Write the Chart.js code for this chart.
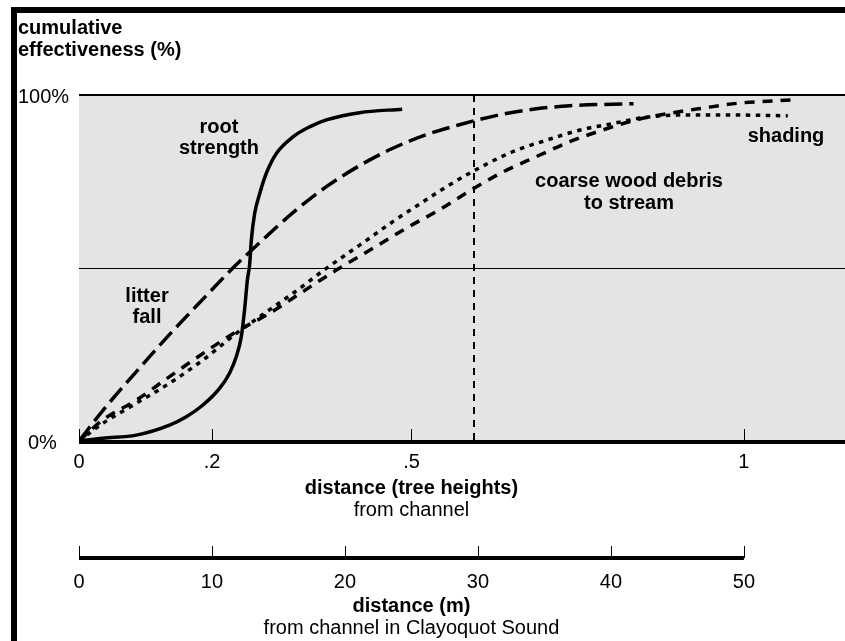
<!DOCTYPE html>
<html>
<head>
<meta charset="utf-8">
<script src="https://cdn.jsdelivr.net/npm/chart.js@4/dist/chart.umd.min.js"></script>
<style>
html,body{margin:0;padding:0;background:#fff;}
canvas{display:block;}
</style>
</head>
<body>
<canvas id="c" width="845" height="641" style="width:845px;height:641px"></canvas>
<script>
// ---- data (x = distance in metres, y = cumulative effectiveness %) ----
const rootX   = [0, 1.79, 4.30, 6.81, 8.07, 9.32, 10.57, 11.32, 11.83, 12.20, 12.45, 12.66, 12.83, 12.96, 13.21, 13.58, 14.09, 14.84, 16.09, 17.34, 18.6, 21.1, 24.3];
const rootY   = [0, 0.8, 1.7, 4.6, 7.0, 10.4, 15.2, 19.6, 24.4, 30.1, 37.9, 46.5, 50.9, 58.1, 65.8, 71.4, 77.4, 83.1, 87.9, 90.8, 92.8, 94.9, 95.9];
const litterX = [0, 1.79, 4.30, 6.81, 9.32, 11.57, 13.58, 16.09, 18.6, 21.1, 23.6, 26.1, 28.6, 31.9, 34.4, 36.9, 41.7];
const litterY = [0, 8.8, 20.0, 30.8, 41.0, 50.0, 57.3, 66.0, 73.5, 79.6, 84.6, 88.5, 91.4, 94.5, 96.0, 96.9, 97.5];
const woodX   = [0, 1.79, 4.30, 6.81, 9.32, 11.83, 14.33, 16.84, 19.35, 22.1, 24.6, 27.1, 29.9, 31.9, 34.4, 36.9, 39.4, 41.9, 44.4, 46.9, 49.5, 53.6];
const woodY   = [0, 6.1, 11.8, 18.6, 25.3, 31.6, 36.9, 43.2, 49.4, 55.7, 61.5, 66.8, 73.5, 77.8, 82.2, 86.5, 89.9, 92.8, 94.7, 96.2, 97.6, 98.6];
const shadeX  = [0, 1.79, 4.30, 6.81, 9.32, 11.83, 13.58, 16.09, 18.6, 21.1, 23.6, 26.1, 27.6, 29.8, 32.6, 35.2, 37.7, 40.2, 42.7, 45.2, 49.5, 53.3];
const shadeY  = [0, 5.1, 10.9, 16.7, 23.4, 31.1, 35.9, 42.7, 49.9, 56.6, 63.4, 69.7, 73.4, 78.3, 83.6, 87.0, 89.9, 91.8, 93.6, 94.2, 94.2, 94.0];

// axis ticks
const treeTickMetres = [0, 10, 25, 50];
const treeTickLabels = ['0', '.2', '.5', '1'];
const metreTicks     = [0, 10, 20, 30, 40, 50];
const yTickValues    = [100, 50, 0];
const yTickLabels    = ['100%', '', '0%'];
const markerMetres   = 29.7;   // dashed vertical reference line (0.6 tree heights)

const FONT = '"Liberation Sans", Arial, Helvetica, sans-serif';
const BOLD = 'bold 20px ' + FONT;
const REG  = '20px ' + FONT;
const pts = (xs, ys) => xs.map((x, i) => ({x: x, y: ys[i]}));

const decor = {
  id: 'decor',
  beforeDraw(chart) {
    const ctx = chart.ctx;
    ctx.save();
    ctx.fillStyle = '#fff';
    ctx.fillRect(0, 0, chart.width, chart.height);
    ctx.restore();
  },
  beforeDatasetsDraw(chart) {
    const {ctx, chartArea: a, scales: {x, y}} = chart;
    ctx.save();
    ctx.fillStyle = '#e4e4e4';
    ctx.fillRect(a.left, a.top, a.right - a.left, a.bottom - a.top);
    ctx.strokeStyle = '#000';
    // 100% line
    ctx.lineWidth = 2;
    ctx.beginPath();
    ctx.moveTo(a.left, y.getPixelForValue(100));
    ctx.lineTo(a.right, y.getPixelForValue(100));
    ctx.stroke();
    // 50% line
    const y50 = Math.round(y.getPixelForValue(50)) + 0.5;
    ctx.lineWidth = 1;
    ctx.beginPath();
    ctx.moveTo(a.left, y50);
    ctx.lineTo(a.right, y50);
    ctx.stroke();
    // dashed vertical marker
    ctx.lineWidth = 2;
    ctx.setLineDash([7, 6]);
    const mx = Math.round(x.getPixelForValue(markerMetres));
    ctx.beginPath();
    ctx.moveTo(mx, y.getPixelForValue(100));
    ctx.lineTo(mx, y.getPixelForValue(0));
    ctx.stroke();
    ctx.restore();
  },
  afterDatasetsDraw(chart) {
    const {ctx, chartArea: a, scales: {x, y}} = chart;
    ctx.save();
    ctx.fillStyle = '#000';
    ctx.strokeStyle = '#000';
    // frame bars
    ctx.fillRect(11, 7, chart.width - 11, 6);
    ctx.fillRect(11, 7, 6, chart.height - 7);

    // y title
    ctx.font = BOLD;
    ctx.textAlign = 'left';
    ctx.textBaseline = 'alphabetic';
    ctx.fillText('cumulative', 18, 34);
    ctx.fillText('effectiveness (%)', 18, 56);

    // y tick labels
    ctx.font = REG;
    ctx.fillText(yTickLabels[0], 18, y.getPixelForValue(yTickValues[0]) + 8);
    ctx.fillText(yTickLabels[2], 28, y.getPixelForValue(yTickValues[2]) + 8);

    // main x axis (tree heights)
    const y0 = y.getPixelForValue(0);
    ctx.lineWidth = 4;
    ctx.beginPath();
    ctx.moveTo(a.left, y0 + 1);
    ctx.lineTo(a.right, y0 + 1);
    ctx.stroke();
    ctx.lineWidth = 1;
    treeTickMetres.forEach(m => {
      const px = Math.round(x.getPixelForValue(m)) + 0.5;
      ctx.beginPath();
      ctx.moveTo(px, y0 - 12);
      ctx.lineTo(px, y0);
      ctx.stroke();
    });
    ctx.textAlign = 'center';
    ctx.font = REG;
    treeTickMetres.forEach((m, i) => {
      ctx.fillText(treeTickLabels[i], x.getPixelForValue(m), 468);
    });
    const cx = (x.getPixelForValue(0) + x.getPixelForValue(50)) / 2;
    ctx.font = BOLD;
    ctx.fillText('distance (tree heights)', cx, 494);
    ctx.font = REG;
    ctx.fillText('from channel', cx, 516);

    // metre axis
    const ym = 558;
    ctx.lineWidth = 4;
    ctx.beginPath();
    ctx.moveTo(x.getPixelForValue(0), ym);
    ctx.lineTo(x.getPixelForValue(50), ym);
    ctx.stroke();
    ctx.lineWidth = 1;
    metreTicks.forEach(m => {
      const px = Math.round(x.getPixelForValue(m)) + 0.5;
      ctx.beginPath();
      ctx.moveTo(px, ym - 12);
      ctx.lineTo(px, ym);
      ctx.stroke();
    });
    ctx.font = REG;
    metreTicks.forEach(m => {
      ctx.fillText(String(m), x.getPixelForValue(m), 588);
    });
    ctx.font = BOLD;
    ctx.fillText('distance (m)', cx, 612);
    ctx.font = REG;
    ctx.fillText('from channel in Clayoquot Sound', cx, 634);

    // curve labels
    ctx.font = BOLD;
    ctx.fillText('root', 219, 133);
    ctx.fillText('strength', 219, 154);
    ctx.fillText('litter', 147, 302);
    ctx.fillText('fall', 147, 323);
    ctx.fillText('coarse wood debris', 629, 187);
    ctx.fillText('to stream', 629, 209);
    ctx.fillText('shading', 786, 142);
    ctx.restore();
  }
};

const common = {
  borderColor: '#000',
  borderWidth: 3.5,
  pointRadius: 0,
  fill: false,
  cubicInterpolationMode: 'monotone',
  borderCapStyle: 'butt'
};

new Chart(document.getElementById('c'), {
  type: 'line',
  data: {
    datasets: [
      Object.assign({label: 'root strength', data: pts(rootX, rootY)}, common),
      Object.assign({label: 'litter fall', data: pts(litterX, litterY), borderDash: [18, 7]}, common),
      Object.assign({label: 'coarse wood debris to stream', data: pts(woodX, woodY), borderDash: [10, 8]}, common),
      Object.assign({label: 'shading', data: pts(shadeX, shadeY), borderDash: [4.5, 5.5]}, common)
    ]
  },
  options: {
    responsive: false,
    animation: false,
    devicePixelRatio: 1,
    layout: {padding: {left: 79, top: 95, right: 0, bottom: 200}},
    plugins: {legend: {display: false}, tooltip: {enabled: false}},
    scales: {
      x: {type: 'linear', min: 0, max: 57.6, display: false},
      y: {type: 'linear', min: 0, max: 100, display: false}
    }
  },
  plugins: [decor]
});
</script>
</body>
</html>
